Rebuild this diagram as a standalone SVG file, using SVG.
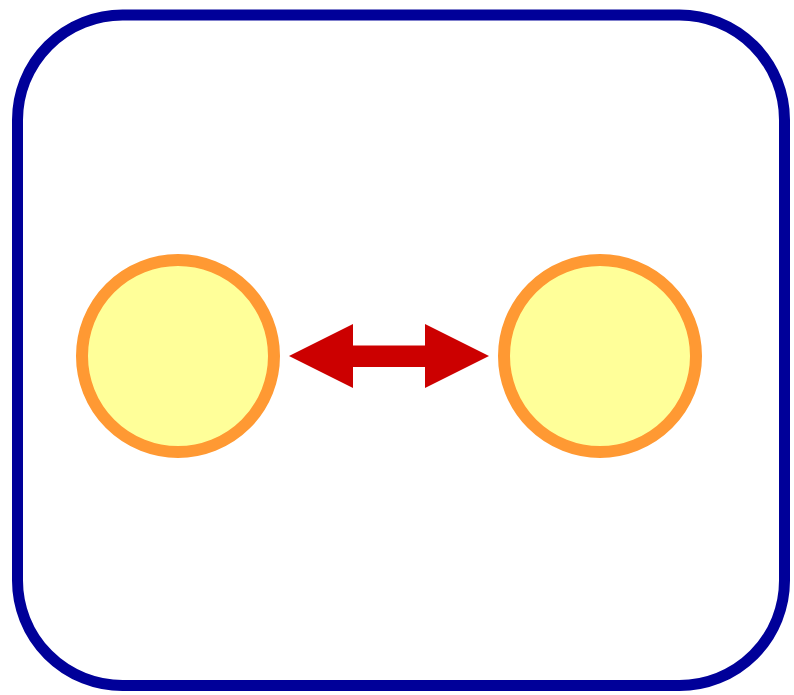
<svg xmlns="http://www.w3.org/2000/svg" width="794" height="695" viewBox="0 0 794 695">
<style>
.frame{fill:#ffffff;stroke:#000099;stroke-width:11}
.node{fill:#ffff99;stroke:#ff9933;stroke-width:12}
.arrow{fill:#cc0000;stroke:none}
</style>
<rect width="794" height="695" fill="#ffffff"/>
<rect class="frame" x="17.5" y="15" width="767" height="670.5" rx="105" ry="105"/>
<g id="node-left"><circle class="node" cx="178" cy="356" r="96"/></g>
<g id="node-right"><circle class="node" cx="600" cy="356" r="96"/></g>
<g id="connectors">
<polygon class="arrow" points="289,356 353,324 353,345.5 425,345.5 425,324 489,356 425,388 425,367 353,367 353,388"/>
</g>
</svg>
